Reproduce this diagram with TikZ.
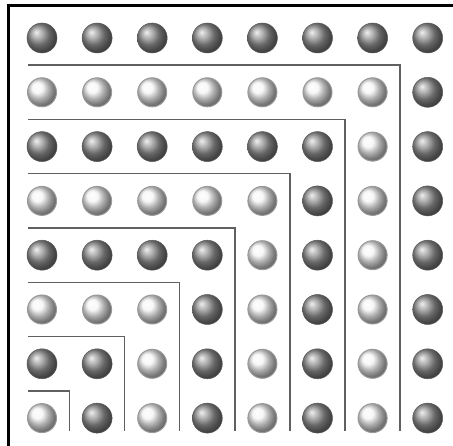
\documentclass[tikz,border=0pt]{standalone}
\begin{document}
\begin{tikzpicture}[x=1pt,y=-1pt,
  darkball/.style={circle,minimum size=30pt,inner sep=0pt,shading=ball,ball color=gray!85,draw=gray!70!black,line width=0.5pt},
  lightball/.style={circle,minimum size=29pt,inner sep=0pt,shading=ball,ball color=gray!8,draw=gray!80,line width=1pt},
  gnomon/.style={draw=gray!75!black,line width=1.5pt},
  frameline/.style={draw=black,line width=3pt}]
\useasboundingbox (0,0) rectangle (453,446);
\fill[white] (0,0) rectangle (453,446);
\draw[frameline] (8,446) -- (8,6) -- (453,6);
\foreach \c in {1,...,8}{
  \foreach \r in {1,...,8}{
    \pgfmathtruncatemacro{\m}{max(\c,\r)}
    \pgfmathsetmacro{\xx}{42+55.1*(\c-1)}
    \pgfmathsetmacro{\yy}{38+54.3*(8-\r)}
    \ifodd\m
      \node[lightball] (b\c-\r) at (\xx,\yy) {};
    \else
      \node[darkball] (b\c-\r) at (\xx,\yy) {};
    \fi
  }
}
\foreach \k in {1,...,7}{
  \pgfmathsetmacro{\hy}{38+54.3*(7-\k)+27.15}
  \pgfmathsetmacro{\vx}{69.5+55.1*(\k-1)}
  \draw[gnomon] (28,\hy) -- (\vx,\hy) -- (\vx,431);
}
\end{tikzpicture}
\end{document}
